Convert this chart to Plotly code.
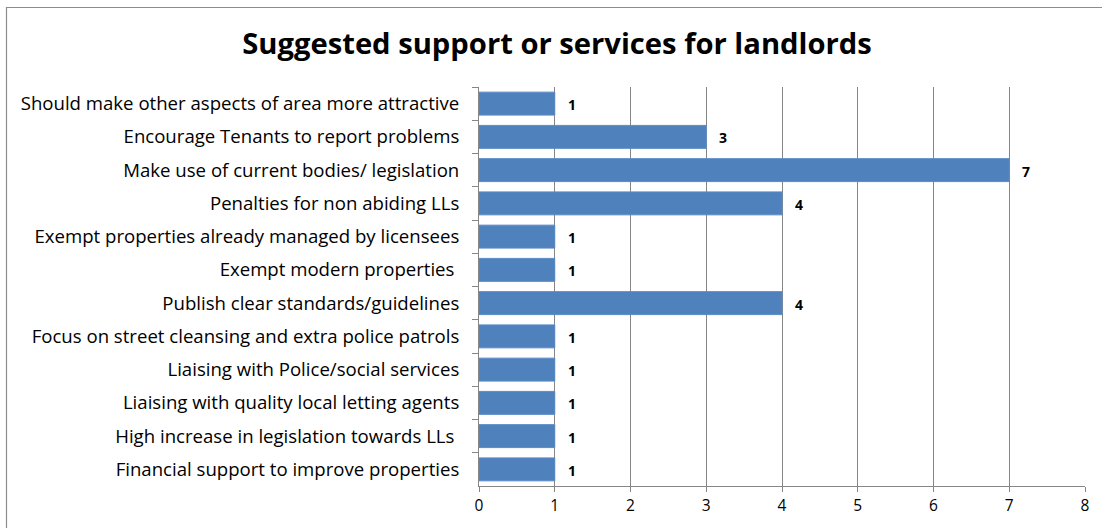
import plotly.graph_objects as go

# Survey responses: suggested support or services for landlords
categories = [
    "Should make other aspects of area more attractive",
    "Encourage Tenants to report problems",
    "Make use of current bodies/ legislation",
    "Penalties for non abiding LLs",
    "Exempt properties already managed by licensees",
    "Exempt modern properties ",
    "Publish clear standards/guidelines",
    "Focus on street cleansing and extra police patrols",
    "Liaising with Police/social services",
    "Liaising with quality local letting agents",
    "High increase in legislation towards LLs ",
    "Financial support to improve properties",
]
counts = [1, 3, 7, 4, 1, 1, 4, 1, 1, 1, 1, 1]
x_ticks = [0, 1, 2, 3, 4, 5, 6, 7, 8]

W, H = 1102, 528
L, R, T, B = 479, 17, 87, 42
pw, ph = W - L - R, H - T - B

FONT = "'Open Sans', sans-serif"
AXIS_GREY = "#868686"

fig = go.Figure()
fig.add_trace(go.Bar(
    x=counts,
    y=categories,
    orientation="h",
    marker=dict(color="#4F81BD", line=dict(color="#5A8AC6", width=1)),
    width=0.69,
    hoverinfo="x+y",
))

# value labels just past the end of each bar
for c, v in zip(categories, counts):
    fig.add_annotation(
        x=v, y=c, text=f"<b>{v}</b>", showarrow=False,
        xanchor="left", xshift=11, yshift=-1,
        font=dict(family=FONT, size=14, color="#000000"),
    )

# outer chart frame
def px_x(p):
    return (p - L) / pw

def px_y(p):
    return 1 - (p - T) / ph

fig.add_shape(
    type="rect", xref="paper", yref="paper",
    x0=px_x(6.5), x1=px_x(1110), y0=px_y(7.5), y1=px_y(540),
    line=dict(color="#8C8C8C", width=1.2), fillcolor="rgba(0,0,0,0)",
)

fig.update_layout(
    width=W, height=H,
    margin=dict(l=L, r=R, t=T, b=B, autoexpand=False),
    paper_bgcolor="white", plot_bgcolor="white",
    showlegend=False,
    title=dict(
        text="<b>Suggested support or services for landlords</b>",
        x=(557) / W, xanchor="center", y=1 - 44 / H, yanchor="middle",
        font=dict(family=FONT, size=29.2, color="#000000"),
    ),
    font=dict(family=FONT, size=18.6, color="#000000"),
    bargap=0.31,
)

fig.update_xaxes(
    range=[0, 8], tickvals=x_ticks, ticktext=[str(t) for t in x_ticks],
    showgrid=True, gridcolor=AXIS_GREY, gridwidth=1,
    showline=True, linecolor=AXIS_GREY, linewidth=1,
    ticks="outside", ticklen=5, tickcolor=AXIS_GREY,
    tickfont=dict(family=FONT, size=15.5, color="#000000"),
    zeroline=False, fixedrange=True,
)
fig.update_yaxes(
    type="category", autorange="reversed",
    showline=True, linecolor=AXIS_GREY, linewidth=1,
    ticks="outside", ticklen=6, tickcolor=AXIS_GREY, tickson="boundaries",
    tickfont=dict(family=FONT, size=18.6, color="#000000"),
    ticklabelstandoff=15, showgrid=False, fixedrange=True,
)

fig.write_html("out.html")
